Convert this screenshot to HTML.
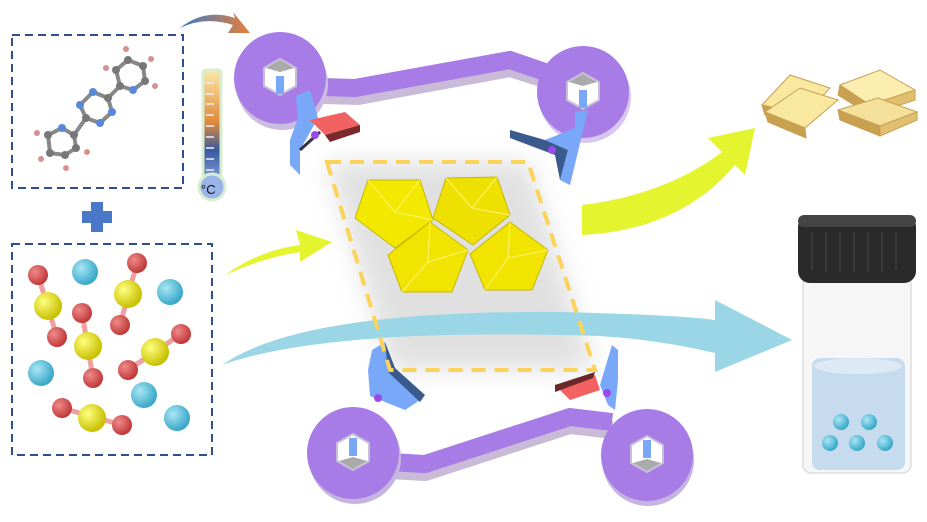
<!DOCTYPE html>
<html><head><meta charset="utf-8"><style>html,body{margin:0;padding:0;background:#fff}svg{display:block}</style></head><body>
<svg width="927" height="522" viewBox="0 0 927 522" xmlns="http://www.w3.org/2000/svg" font-family="Liberation Sans, sans-serif">
<defs>
<radialGradient id="rr" cx="35%" cy="35%" r="65%"><stop offset="0" stop-color="#f08a8a"/><stop offset="1" stop-color="#c03a3a"/></radialGradient>
<radialGradient id="yy" cx="35%" cy="35%" r="65%"><stop offset="0" stop-color="#ffff80"/><stop offset="1" stop-color="#c8c000"/></radialGradient>
<radialGradient id="cc" cx="35%" cy="35%" r="65%"><stop offset="0" stop-color="#a8e6f5"/><stop offset="1" stop-color="#3aa8c8"/></radialGradient>
<linearGradient id="th" x1="0" y1="0" x2="0" y2="1"><stop offset="0" stop-color="#fbe8a8"/><stop offset=".45" stop-color="#e08a3a"/><stop offset=".7" stop-color="#3a5aa0"/><stop offset="1" stop-color="#8aa8e0"/></linearGradient>
<linearGradient id="oa" x1="0" y1="0" x2="1" y2="0"><stop offset="0" stop-color="#3a7ac8"/><stop offset="1" stop-color="#e8803a"/></linearGradient>
<filter id="bl"><feGaussianBlur stdDeviation="12"/></filter>
</defs>
<rect x="12" y="35" width="171" height="153" fill="none" stroke="#2e4e8e" stroke-width="2" stroke-dasharray="8,5"/>
<g stroke="#888" stroke-width="4">
<line x1="48" y1="135" x2="62" y2="128"/><line x1="62" y1="128" x2="74" y2="135"/><line x1="74" y1="135" x2="76" y2="148"/><line x1="76" y1="148" x2="65" y2="155"/><line x1="65" y1="155" x2="50" y2="153"/><line x1="50" y1="153" x2="48" y2="135"/>
<line x1="74" y1="135" x2="86" y2="118"/><line x1="86" y1="118" x2="80" y2="105"/><line x1="80" y1="105" x2="93" y2="92"/><line x1="93" y1="92" x2="108" y2="98"/><line x1="108" y1="98" x2="112" y2="112"/><line x1="112" y1="112" x2="100" y2="123"/><line x1="100" y1="123" x2="86" y2="118"/>
<line x1="108" y1="98" x2="120" y2="86"/><line x1="120" y1="86" x2="116" y2="70"/><line x1="116" y1="70" x2="128" y2="60"/><line x1="128" y1="60" x2="143" y2="66"/><line x1="143" y1="66" x2="145" y2="81"/><line x1="145" y1="81" x2="133" y2="90"/><line x1="133" y1="90" x2="120" y2="86"/>
</g>
<g fill="#777"><circle cx="48" cy="135" r="4"/><circle cx="74" cy="135" r="4"/><circle cx="76" cy="148" r="4"/><circle cx="65" cy="155" r="4"/><circle cx="50" cy="153" r="4"/><circle cx="86" cy="118" r="4"/><circle cx="108" cy="98" r="4"/><circle cx="120" cy="86" r="4"/><circle cx="116" cy="70" r="4"/><circle cx="128" cy="60" r="4"/><circle cx="143" cy="66" r="4"/><circle cx="145" cy="81" r="4"/></g>
<g fill="#5a88d8"><circle cx="62" cy="128" r="4"/><circle cx="80" cy="105" r="4"/><circle cx="93" cy="92" r="4"/><circle cx="112" cy="112" r="4"/><circle cx="100" cy="123" r="4"/><circle cx="133" cy="90" r="4"/></g>
<g fill="#d89090"><circle cx="37" cy="133" r="3"/><circle cx="41" cy="159" r="3"/><circle cx="66" cy="168" r="3"/><circle cx="87" cy="152" r="3"/><circle cx="106" cy="68" r="3"/><circle cx="126" cy="49" r="3"/><circle cx="151" cy="59" r="3"/><circle cx="155" cy="86" r="3"/></g>
<rect x="203" y="70" width="18" height="115" rx="3" fill="url(#th)" stroke="#d8eed0" stroke-width="3"/>
<circle cx="212" cy="187" r="13" fill="#9ab4e8" stroke="#d8eed0" stroke-width="3"/>
<text x="201" y="194" font-size="13" fill="#111">°C</text>
<g stroke="#eef" stroke-width="1.5"><line x1="206" y1="83" x2="214" y2="83"/><line x1="206" y1="94" x2="214" y2="94"/><line x1="206" y1="104" x2="214" y2="104"/><line x1="206" y1="115" x2="214" y2="115"/><line x1="206" y1="126" x2="214" y2="126"/><line x1="206" y1="137" x2="214" y2="137"/><line x1="206" y1="148" x2="214" y2="148"/><line x1="206" y1="159" x2="214" y2="159"/><line x1="206" y1="170" x2="214" y2="170"/></g>
<path d="M180 28 Q205 8 235 18 L233 12 L250 33 L228 33 L233 25 Q205 16 180 28Z" fill="url(#oa)"/>
<rect x="91" y="202" width="12" height="30" fill="#4a78c8"/><rect x="82" y="211" width="30" height="12" fill="#4a78c8"/>
<rect x="12" y="244" width="200" height="211" fill="none" stroke="#2e4e8e" stroke-width="2" stroke-dasharray="8,5"/>
<g stroke="#f0a0a0" stroke-width="5"><line x1="38" y1="275" x2="57" y2="337"/><line x1="82" y1="313" x2="93" y2="378"/><line x1="137" y1="263" x2="120" y2="325"/><line x1="181" y1="334" x2="128" y2="370"/><line x1="62" y1="408" x2="122" y2="425"/></g>
<g fill="url(#cc)"><circle cx="85" cy="272" r="13"/><circle cx="170" cy="292" r="13"/><circle cx="41" cy="373" r="13"/><circle cx="144" cy="395" r="13"/><circle cx="177" cy="418" r="13"/></g>
<g fill="url(#rr)"><circle cx="38" cy="275" r="10"/><circle cx="57" cy="337" r="10"/><circle cx="82" cy="313" r="10"/><circle cx="93" cy="378" r="10"/><circle cx="137" cy="263" r="10"/><circle cx="120" cy="325" r="10"/><circle cx="181" cy="334" r="10"/><circle cx="128" cy="370" r="10"/><circle cx="62" cy="408" r="10"/><circle cx="122" cy="425" r="10"/></g>
<g fill="url(#yy)"><circle cx="48" cy="306" r="14"/><circle cx="88" cy="346" r="14"/><circle cx="128" cy="294" r="14"/><circle cx="155" cy="352" r="14"/><circle cx="92" cy="418" r="14"/></g>
<polygon points="327,162 528,162 595,370 390,370" fill="#ccc" filter="url(#bl)" opacity=".6"/>
<path d="M225 275 Q260 250 300 245 L296 230 L332 242 L300 262 L300 252 Q262 258 225 275Z" fill="#e4f42e"/>
<path d="M582 205 Q665 195 722 152 L708 138 L755 128 L745 175 L735 165 Q680 230 582 235Z" fill="#e4f42e"/>
<path d="M222 365 Q300 310 560 312 Q680 315 715 320 L715 300 L792 340 L715 372 L715 353 Q640 335 560 335 Q320 330 222 365Z" fill="#9ad6e6"/>
<g fill="none" stroke-linejoin="miter">
<polyline points="290,94 358,96 510,68 548,80" stroke="#c9bad8" stroke-width="18"/>
<polyline points="290,86 355,88 510,60 545,72" stroke="#a77ce6" stroke-width="18"/>
<polyline points="390,470 425,472 570,425 612,430" stroke="#c9bad8" stroke-width="18"/>
<polyline points="390,462 425,464 570,417 612,422" stroke="#a77ce6" stroke-width="18"/>
</g>
<g>
<circle cx="282" cy="84" r="46" fill="#cbbde0"/><circle cx="280" cy="78" r="46" fill="#a77ce6"/>
<circle cx="585" cy="97" r="46" fill="#d8c8f0"/><circle cx="583" cy="92" r="46" fill="#a77ce6"/>
<circle cx="355" cy="458" r="46" fill="#c6b4e0"/><circle cx="353" cy="453" r="46" fill="#a77ce6"/>
<circle cx="648" cy="460" r="46" fill="#c6b4e0"/><circle cx="647" cy="455" r="46" fill="#a77ce6"/>
</g>
<g fill="#fff" stroke="#c8c0d8" stroke-width="2">
<polygon points="264,68 280,59 296,68 296,86 280,95 264,86"/>
<polygon points="567,82 583,73 599,82 599,100 583,109 567,100"/>
<polygon points="337,443 353,434 369,443 369,461 353,470 337,461"/>
<polygon points="631,445 647,436 663,445 663,463 647,472 631,463"/>
</g>
<g fill="#aaa"><polygon points="266,68 280,60 294,68 280,72"/><polygon points="569,82 583,74 597,82 583,86"/><polygon points="339,461 353,469 367,461 353,457"/><polygon points="633,463 647,471 661,463 647,459"/></g>
<g fill="#7aa8f8"><rect x="276" y="76" width="8" height="18"/><rect x="579" y="90" width="8" height="18"/><rect x="349" y="438" width="8" height="18"/><rect x="643" y="440" width="8" height="18"/></g>
<g>
<polygon points="296,96 310,90 318,118 300,150 300,175 290,165 290,140 298,118" fill="#7aa8f8"/>
<polygon points="310,120 345,112 360,125 325,135" fill="#f26262"/>
<polygon points="325,135 360,125 360,132 330,142" fill="#7a2a2a"/>
<line x1="300" y1="150" x2="320" y2="132" stroke="#334" stroke-width="3"/>
<circle cx="315" cy="135" r="4" fill="#9a4ae8"/>
<polygon points="545,140 575,128 575,112 588,110 582,135 570,185 560,180 568,150" fill="#7aa8f8"/>
<polygon points="510,130 545,140 568,150 560,180 555,155 510,138" fill="#3a5a8e"/>
<circle cx="552" cy="150" r="4" fill="#9a4ae8"/>
<polygon points="372,350 385,342 388,370 420,400 405,410 370,396 368,370" fill="#7aa8f8"/>
<polygon points="385,342 395,368 425,395 420,402 388,372" fill="#3a5a8e"/>
<circle cx="378" cy="398" r="4" fill="#9a4ae8"/>
<polygon points="612,345 618,350 618,380 615,410 608,405 600,385" fill="#7aa8f8"/>
<polygon points="555,385 595,375 600,390 570,400" fill="#f26262"/>
<polygon points="555,385 595,372 593,378 555,392" fill="#6a2828"/>
<circle cx="607" cy="393" r="4" fill="#9a4ae8"/>
</g>
<polygon points="327,162 528,162 595,370 390,370" fill="none" stroke="#fbd35a" stroke-width="4" stroke-dasharray="14,9"/>
<g stroke="#c8b800" stroke-width="1">
<polygon points="355,218 368,180 420,180 433,220 395,248" fill="#f2e800"/>
<polygon points="433,218 446,178 497,177 510,215 473,245" fill="#eee000"/>
<polygon points="388,255 430,222 468,250 452,292 402,292" fill="#f0e400"/>
<polygon points="470,254 510,222 548,250 532,290 485,290" fill="#f0e400"/>
</g>
<g stroke="#fffa90" stroke-width="1" opacity=".8"><line x1="395" y1="212" x2="368" y2="180"/><line x1="395" y1="212" x2="433" y2="220"/><line x1="395" y1="212" x2="420" y2="180"/><line x1="472" y1="208" x2="446" y2="178"/><line x1="472" y1="208" x2="510" y2="215"/><line x1="472" y1="208" x2="497" y2="177"/><line x1="428" y1="262" x2="402" y2="292"/><line x1="428" y1="262" x2="430" y2="222"/><line x1="428" y1="262" x2="468" y2="250"/><line x1="508" y1="258" x2="485" y2="290"/><line x1="508" y1="258" x2="510" y2="222"/><line x1="508" y1="258" x2="548" y2="250"/></g>
<g stroke="#c8a050" stroke-width="1">
<polygon points="762,105 790,75 830,88 805,115" fill="#f8e8a0"/><polygon points="762,105 805,115 805,125 765,115" fill="#c8a050"/>
<polygon points="840,85 880,70 915,90 870,105" fill="#fbeeb0"/><polygon points="840,85 870,105 870,115 838,95" fill="#c8a050"/><polygon points="870,105 915,90 915,100 870,115" fill="#e0c070"/>
<polygon points="765,112 800,88 838,100 805,128" fill="#f8e8a0"/><polygon points="765,112 805,128 806,138 768,122" fill="#c8a050"/>
<polygon points="838,110 878,98 917,112 880,126" fill="#f4e09a"/><polygon points="838,110 880,126 880,136 840,120" fill="#c8a050"/><polygon points="880,126 917,112 917,120 880,136" fill="#e0c070"/>
</g>
<rect x="803" y="275" width="108" height="198" rx="8" fill="#f6f6f6" stroke="#ddd" stroke-width="1.5"/>
<rect x="812" y="358" width="93" height="112" rx="8" fill="#c6dcee"/>
<ellipse cx="858" cy="366" rx="44" ry="8" fill="#dde9f4"/>
<rect x="798" y="215" width="118" height="68" rx="12" fill="#2a2a2a"/>
<rect x="798" y="215" width="118" height="12" rx="6" fill="#444"/>
<g stroke="#3a3a3a" stroke-width="2"><line x1="812" y1="232" x2="812" y2="270"/><line x1="826" y1="232" x2="826" y2="272"/><line x1="840" y1="232" x2="840" y2="272"/><line x1="854" y1="232" x2="854" y2="272"/><line x1="868" y1="232" x2="868" y2="272"/><line x1="882" y1="232" x2="882" y2="272"/><line x1="896" y1="232" x2="896" y2="270"/></g>
<g fill="url(#cc)"><circle cx="841" cy="422" r="8"/><circle cx="869" cy="422" r="8"/><circle cx="830" cy="443" r="8"/><circle cx="857" cy="443" r="8"/><circle cx="885" cy="443" r="8"/></g>
</svg>
</body></html>
